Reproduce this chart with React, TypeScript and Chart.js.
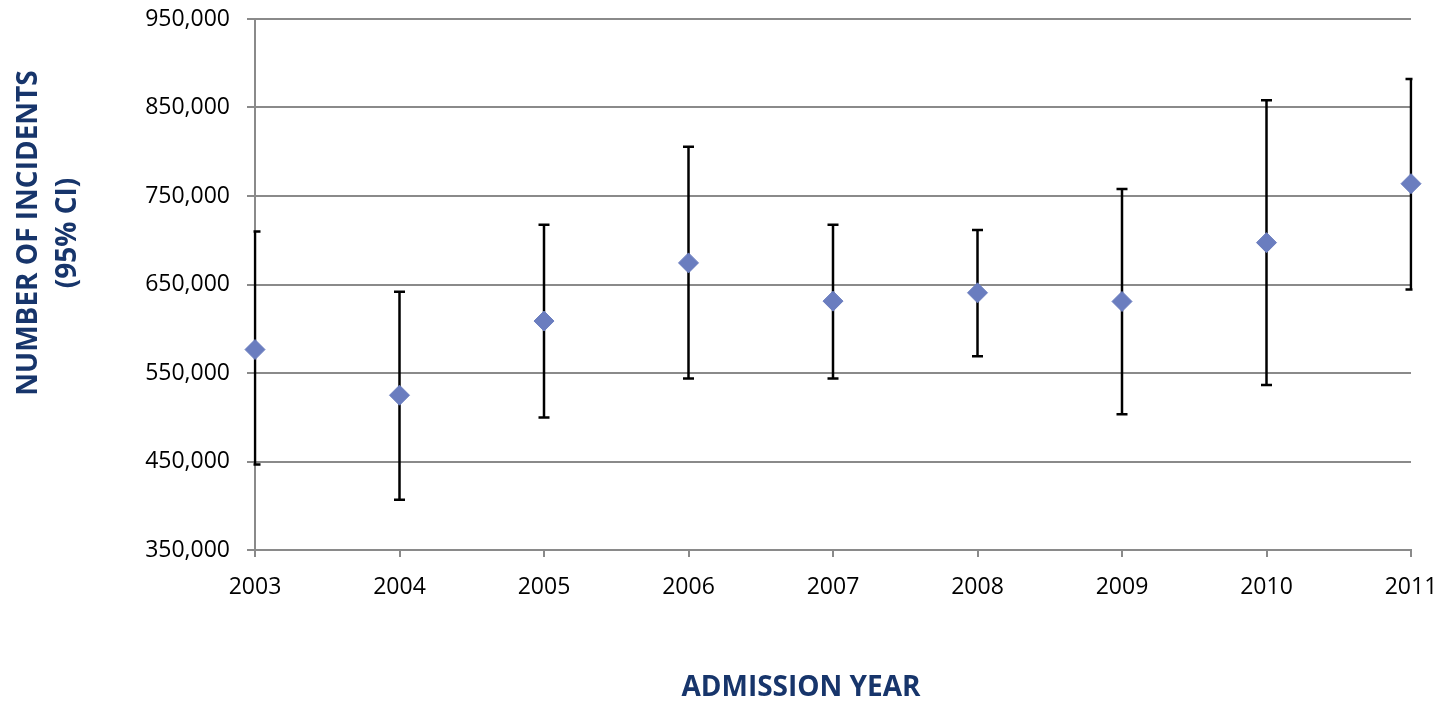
import React, { useEffect, useRef } from 'react';
import { Chart, registerables } from 'chart.js';

Chart.register(...registerables);

// ---- data ----
const years = ['2003', '2004', '2005', '2006', '2007', '2008', '2009', '2010', '2011'];
const incidents = [576500, 524900, 608700, 674400, 631200, 640600, 630800, 697300, 763900];
const ciLower = [446600, 406800, 499700, 543700, 543700, 568800, 503400, 536500, 644400];
const ciUpper = [709800, 641700, 717600, 805600, 717600, 711600, 757900, 858200, 882200];
const yMin = 350000;
const yMax = 950000;
const yStep = 100000;
const xTitle = 'ADMISSION YEAR';
const yTitleLines = ['NUMBER OF INCIDENTS', '(95% CI)'];

const NAVY = '#17356b';
const GRID = '#8a8a8a';
const POINT = '#6a7dbf';
const FONT = '"Open Sans", "Noto Sans", sans-serif';

const errorBarPlugin = {
  id: 'errorBars',
  beforeDatasetsDraw(chart: any) {
    const { ctx, chartArea, scales } = chart;
    const xs = scales.x;
    const ys = scales.y;
    ctx.save();
    ctx.beginPath();
    ctx.rect(chartArea.left - 1.5, chartArea.top - 10, chartArea.right - chartArea.left + 3, chartArea.bottom - chartArea.top + 20);
    ctx.clip();
    ctx.strokeStyle = '#000';
    ctx.lineWidth = 2.5;
    years.forEach((_, i) => {
      const px = xs.getPixelForValue(i);
      const top = ys.getPixelForValue(ciUpper[i]);
      const bot = ys.getPixelForValue(ciLower[i]);
      ctx.beginPath();
      ctx.moveTo(px, top);
      ctx.lineTo(px, bot);
      ctx.moveTo(px - 5.5, top);
      ctx.lineTo(px + 5.5, top);
      ctx.moveTo(px - 5.5, bot);
      ctx.lineTo(px + 5.5, bot);
      ctx.stroke();
    });
    ctx.restore();
  },
};

const titlesPlugin = {
  id: 'titles',
  afterDraw(chart: any) {
    const { ctx } = chart;
    ctx.save();
    ctx.fillStyle = NAVY;
    ctx.font = `bold 28px ${FONT}`;
    ctx.textAlign = 'center';
    ctx.textBaseline = 'middle';
    ctx.fillText(xTitle, 801, 688);
    ctx.translate(0, 233);
    ctx.rotate(-Math.PI / 2);
    ctx.fillText(yTitleLines[0], 0, 29);
    ctx.fillText(yTitleLines[1], 0, 68);
    ctx.restore();
  },
};

const zeroPad = (scale: any) => {
  scale.paddingTop = 0;
  scale.paddingBottom = 0;
  scale.paddingLeft = 0;
  scale.paddingRight = 0;
};

export default function App() {
  const ref = useRef<HTMLCanvasElement>(null);

  useEffect(() => {
    if (!ref.current) return;
    const chart = new Chart(ref.current, {
      type: 'line',
      data: {
        labels: years,
        datasets: [
          {
            label: 'Incidents',
            data: incidents,
            showLine: false,
            pointStyle: 'rectRot',
            pointRadius: 10,
            pointHoverRadius: 10,
            pointBackgroundColor: POINT,
            pointBorderColor: POINT,
            pointBorderWidth: 1,
            clip: false as any,
          },
        ],
      },
      options: {
        responsive: false,
        animation: false,
        layout: { padding: { top: 19, right: 30, bottom: 0, left: 0 } },
        plugins: {
          legend: { display: false },
          tooltip: { enabled: false },
        },
        scales: {
          x: {
            type: 'category',
            offset: false,
            grid: {
              drawOnChartArea: false,
              drawTicks: true,
              tickLength: 7,
              color: GRID,
              lineWidth: 2,
            },
            border: { display: true, color: GRID, width: 2 },
            ticks: {
              color: '#000',
              font: { family: FONT, size: 23 },
              padding: 17,
              maxRotation: 0,
              autoSkip: false,
            },
            afterFit: (scale: any) => {
              scale.height = 157;
              zeroPad(scale);
            },
          },
          y: {
            min: yMin,
            max: yMax,
            grid: {
              color: GRID,
              lineWidth: 2,
              tickLength: 8,
            },
            border: { display: true, color: GRID, width: 2 },
            ticks: {
              stepSize: yStep,
              color: '#000',
              font: { family: FONT, size: 23 },
              padding: 17,
              callback: (v: any) => Number(v).toLocaleString('en-US'),
            },
            afterFit: (scale: any) => {
              scale.width = 255;
              zeroPad(scale);
            },
          },
        },
      },
      plugins: [errorBarPlugin, titlesPlugin],
    });
    return () => chart.destroy();
  }, []);

  return (
    <div style={{ position: 'absolute', left: 0, top: 0, width: 1441, height: 707, background: '#fff' }}>
      <canvas ref={ref} width={1441} height={707} />
    </div>
  );
}
